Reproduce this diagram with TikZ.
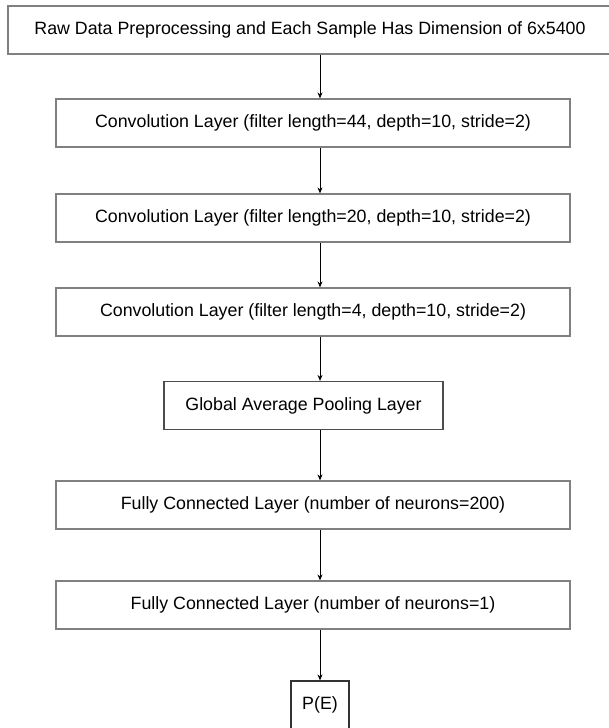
\documentclass[tikz,border=0pt]{standalone}
\usepackage{fontspec}
\setmainfont{Liberation Sans}
\usepackage{tikz}
\usetikzlibrary{arrows.meta,calc,positioning}

\begin{document}
\begin{tikzpicture}[x=1pt,y=-1pt,>={Stealth[length=6pt,width=5pt]},
  layer/.style={draw=gray,line width=1.2pt,minimum height=48pt,inner sep=0pt,
    font=\fontsize{17.8}{21}\selectfont},
  conn/.style={->,black,line width=0.9pt}]
\useasboundingbox (0,0) rectangle (608,728);
\node[layer,minimum width=604pt] (raw) at (310,30) {Raw Data Preprocessing and Each Sample Has Dimension of 6x5400};
\node[layer,minimum width=514pt] (conv1) at (313,123) {Convolution Layer (filter length=44, depth=10, stride=2)};
\node[layer,minimum width=514pt] (conv2) at (313,218) {Convolution Layer (filter length=20, depth=10, stride=2)};
\node[layer,minimum width=514pt] (conv3) at (313,312) {Convolution Layer (filter length=4, depth=10, stride=2)};
\node[layer,draw=black!70,minimum width=279pt] (pool) at (303.5,405.5) {Global Average Pooling Layer};
\node[layer,minimum width=514pt] (fc1) at (313,505) {Fully Connected Layer (number of neurons=200)};
\node[layer,minimum width=514pt] (fc2) at (313,605) {Fully Connected Layer (number of neurons=1)};
\node[layer,draw=black!80,minimum width=58pt] (prob) at (320,705) {P(E)};
% arrows all sit on the output's centre line
\draw[conn] (raw.south -| prob) -- (conv1.north -| prob);
\draw[conn] (conv1.south -| prob) -- (conv2.north -| prob);
\draw[conn] (conv2.south -| prob) -- (conv3.north -| prob);
\draw[conn] (conv3.south -| prob) -- (pool.north -| prob);
\draw[conn] (pool.south -| prob) -- (fc1.north -| prob);
\draw[conn] (fc1.south -| prob) -- (fc2.north -| prob);
\draw[conn] (fc2.south -| prob) -- (prob.north);
\end{tikzpicture}
\end{document}
